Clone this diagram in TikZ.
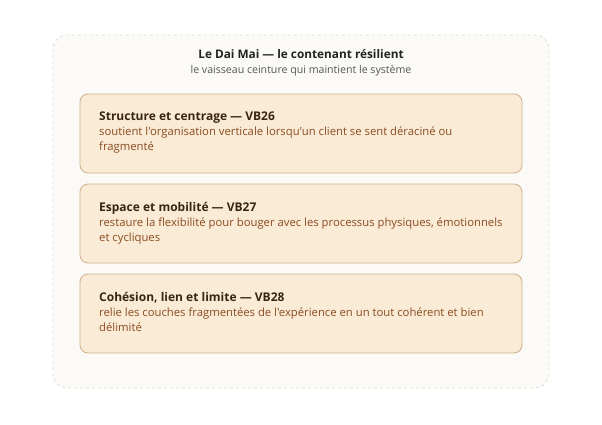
\documentclass[tikz,border=0pt]{standalone}
\usepackage{fontspec}
\setmainfont{Open Sans}[Ligatures=TeXOff]
\definecolor{pagebg}{HTML}{FFFFFF}
\definecolor{outerfill}{HTML}{FBFAF7}
\definecolor{outerline}{HTML}{E2DED8}
\definecolor{titlecol}{HTML}{222222}
\definecolor{subcol}{HTML}{555555}
\definecolor{cardfill}{HTML}{FAEBD7}
\definecolor{cardline}{HTML}{CFB08A}
\definecolor{cardtitle}{HTML}{3A2414}
\definecolor{cardbody}{HTML}{8A4B1E}
\begin{document}
\begin{tikzpicture}[x=1pt,y=-1pt,
  outerbox/.style={draw=outerline, fill=outerfill, dashed, dash pattern=on 3pt off 3pt, rounded corners=14pt, line width=0.8pt},
  card/.style={draw=cardline, fill=cardfill, rounded corners=8pt, line width=0.8pt},
  cardtext/.style={anchor=north west, align=left, inner sep=0pt, font=\fontsize{11.3}{15}\selectfont, text=cardbody}]
\useasboundingbox (0,0) rectangle (602,425);
\fill[pagebg] (0,0) rectangle (602,425);
\draw[outerbox] (53,35) rectangle (549,388);
\node[font=\fontsize{11.8}{14}\selectfont\bfseries, text=titlecol] (title) at (301,54) {Le Dai Mai — le contenant résilient};
\node[font=\fontsize{10.6}{12}\selectfont, text=subcol] (subtitle) at (301,71) {le vaisseau ceinture qui maintient le système};
\draw[card] (80,94) rectangle (522,173);
\node[cardtext] (t1) at (99,112) {{\color{cardtitle}\fontsize{12}{15}\selectfont\bfseries Structure et centrage — VB26}\\soutient l'organisation verticale lorsqu'un client se sent déraciné ou\\fragmenté};
\draw[card] (80,184) rectangle (522,263);
\node[cardtext] (t2) at (99,202) {{\color{cardtitle}\fontsize{12}{15}\selectfont\bfseries Espace et mobilité — VB27}\\restaure la flexibilité pour bouger avec les processus physiques, émotionnels\\et cycliques};
\draw[card] (80,274) rectangle (522,353);
\node[cardtext] (t3) at (99,292) {{\color{cardtitle}\fontsize{12}{15}\selectfont\bfseries Cohésion, lien et limite — VB28}\\relie les couches fragmentées de l'expérience en un tout cohérent et bien\\délimité};
\end{tikzpicture}
\end{document}
